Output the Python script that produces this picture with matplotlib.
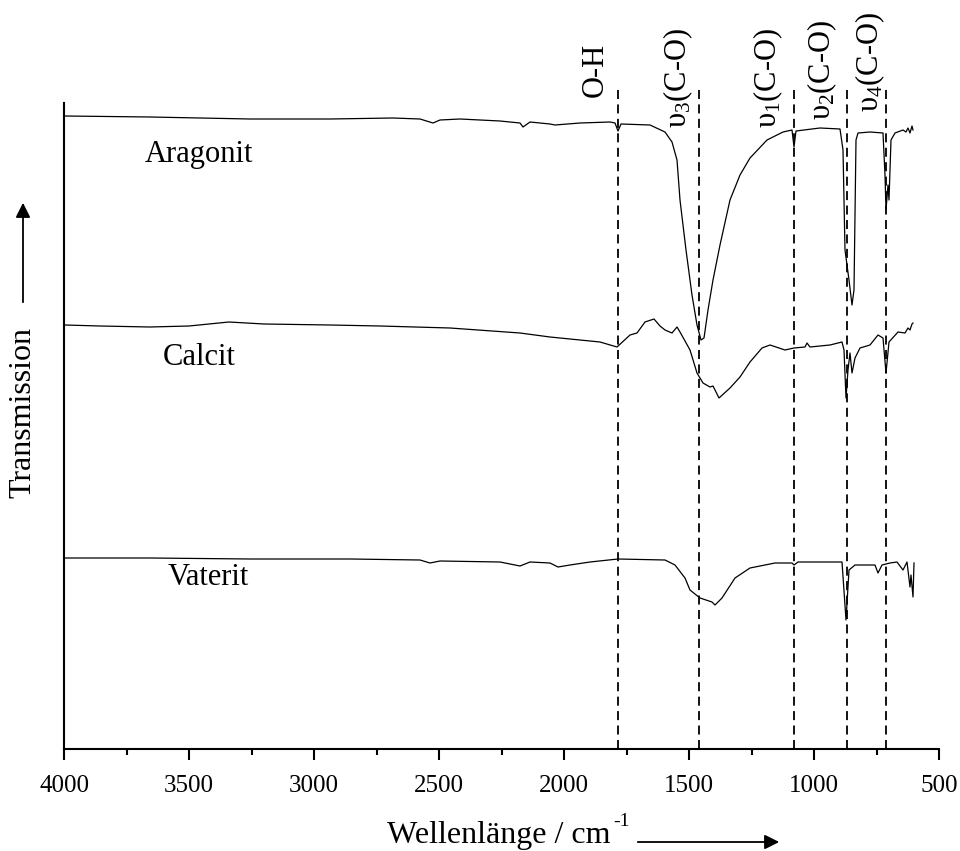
import matplotlib
matplotlib.use("Agg")
import matplotlib.pyplot as plt
from matplotlib.ticker import MultipleLocator

plt.rcParams['font.family'] = ['Liberation Serif', 'DejaVu Serif']
plt.rcParams['mathtext.fontset'] = 'custom'
plt.rcParams['mathtext.rm'] = 'Liberation Serif'
plt.rcParams['mathtext.it'] = 'Liberation Serif'

# ---------------- data (wavenumber cm^-1, transmission in arbitrary units) -------------
arag_w = [3996, 3656, 3256, 2936, 2684, 2576, 2524, 2496, 2416, 2256, 2176, 2164, 2136,
          2056, 2036, 1936, 1816, 1796, 1784, 1772, 1656, 1596, 1568, 1548, 1536, 1512,
          1488, 1468, 1452, 1440, 1424, 1404, 1376, 1336, 1296, 1256, 1188, 1124, 1088,
          1080, 1072, 976, 896, 884, 876, 868, 860, 848, 840, 832, 824, 776, 724, 716,
          712, 704, 700, 692, 676, 644, 632, 624, 616, 608, 604]
arag_t = [633, 632, 630, 630, 631, 630, 626, 629, 630, 628, 626, 622, 627,
          625, 624, 626, 627, 626, 618, 625, 624, 617, 607, 589, 549, 499,
          454, 424, 409, 411, 439, 469, 504, 549, 574, 591, 609, 617, 619,
          602, 618, 621, 620, 599, 499, 484, 469, 444, 459, 609, 616, 617, 616, 574,
          539, 564, 549, 609, 616, 619, 617, 621, 616, 623, 619]

calc_w = [3996, 3856, 3656, 3500, 3340, 3200, 2936, 2736, 2456, 2176, 2056, 1856, 1788, 1736,
          1708, 1676, 1640, 1616, 1596, 1568, 1548, 1536, 1496, 1468, 1444, 1416, 1404,
          1380, 1336, 1296, 1256, 1208, 1176, 1116, 1080, 1036, 1028, 1016, 936, 888,
          880, 872, 864, 856, 848, 836, 816, 776, 744, 724, 712, 700, 664, 636, 624,
          616, 608, 604]
calc_t = [424, 423, 422, 423, 427, 425, 424, 423, 421, 416, 412, 407, 402, 414,
          416, 427, 430, 423, 419, 416, 422, 417, 399, 376, 366, 362, 363,
          351, 361, 372, 387, 401, 404, 399, 401, 402, 406, 402, 404, 407,
          399, 351, 379, 396, 376, 391, 401, 404, 414, 411, 376, 407, 417, 416, 421,
          419, 425, 426]

vat_w = [3996, 3656, 3256, 2856, 2576, 2536, 2496, 2256, 2176, 2136, 2056, 2024, 1976,
         1896, 1784, 1596, 1556, 1516, 1496, 1456, 1408, 1396, 1368, 1316, 1256, 1156,
         1088, 1080, 1064, 888, 872, 860, 836, 756, 744, 728, 696, 668, 644, 628, 616,
         612, 604, 600]
vat_t = [191, 191, 190, 190, 189, 186, 188, 187, 183, 187, 186, 182, 184,
         187, 190, 189, 184, 171, 159, 151, 147, 144, 151, 171, 181, 186,
         186, 184, 187, 187, 129, 179, 184, 184, 176, 184, 186, 187, 179, 187, 162,
         174, 152, 186]

band_pos = [1784, 1460, 1080, 868, 712]
band_labels = ['O-H', 'υ$_\\mathrm{3}$(C-O)', 'υ$_\\mathrm{1}$(C-O)',
               'υ$_\\mathrm{2}$(C-O)', 'υ$_\\mathrm{4}$(C-O)']
sample_names = ['Aragonit', 'Calcit', 'Vaterit']
xticks = [4000, 3500, 3000, 2500, 2000, 1500, 1000, 500]

# ---------------- figure ----------------
W, H = 960, 851
fig = plt.figure(figsize=(W / 100, H / 100), dpi=100)
ax = fig.add_axes([64 / W, (H - 749) / H, (939 - 64) / W, (749 - 103) / H])

for w, t in [(arag_w, arag_t), (calc_w, calc_t), (vat_w, vat_t)]:
    ax.plot(w, t, color='black', lw=0.9)

ax.set_xlim(4000, 500)
ax.set_ylim(0, 646)

# dashed band lines, extending slightly above the axes
for bp in band_pos:
    ax.plot([bp, bp], [0, 661], color='black', lw=1.3, ls=(0, (5, 3)), clip_on=False)

# band labels (rotated)
lab_x = [595, 678, 768, 822, 870]
lab_bottom = [97, 128, 128, 120, 112]
for lbl, px, pb in zip(band_labels, lab_x, lab_bottom):
    fig.text(px / W, (H - pb) / H, lbl, rotation=90, ha='center', va='bottom',
             fontsize=22)

# sample names
name_x = [3676, 3604, 3584]
name_y = [587, 384, 164]
for n, x, y in zip(sample_names, name_x, name_y):
    ax.text(x, y, n, fontsize=22, ha='left', va='baseline')

# spines and ticks
for s in ['top', 'right']:
    ax.spines[s].set_visible(False)
for s in ['left', 'bottom']:
    ax.spines[s].set_linewidth(1.5)
ax.set_yticks([])
ax.set_xticks(xticks)
ax.set_xticklabels([str(v) for v in xticks])
ax.xaxis.set_minor_locator(MultipleLocator(250))
ax.tick_params(axis='x', which='major', direction='out', length=8, width=1.5,
               labelsize=18, pad=11)
ax.tick_params(axis='x', which='minor', direction='out', length=4.5, width=1.5)

# axis labels with arrows
fig.text(387 / W, (H - 843) / H, 'Wellenlänge / cm', fontsize=23,
         ha='left', va='baseline')
fig.text(613 / W, (H - 826) / H, '-1', fontsize=14, ha='left', va='baseline')
fig.add_artist(matplotlib.patches.FancyArrowPatch(
    (635 / W, (H - 842) / H), (782 / W, (H - 842) / H), transform=fig.transFigure,
    arrowstyle='-|>', mutation_scale=22, lw=1.3, color='black'))

fig.text(23 / W, (H - 413) / H, 'Transmission', fontsize=23, rotation=90,
         ha='center', va='center')
fig.add_artist(matplotlib.patches.FancyArrowPatch(
    (23 / W, (H - 305) / H), (23 / W, (H - 200) / H), transform=fig.transFigure,
    arrowstyle='-|>', mutation_scale=22, lw=1.3, color='black'))

fig.savefig('out.png', dpi=100)
